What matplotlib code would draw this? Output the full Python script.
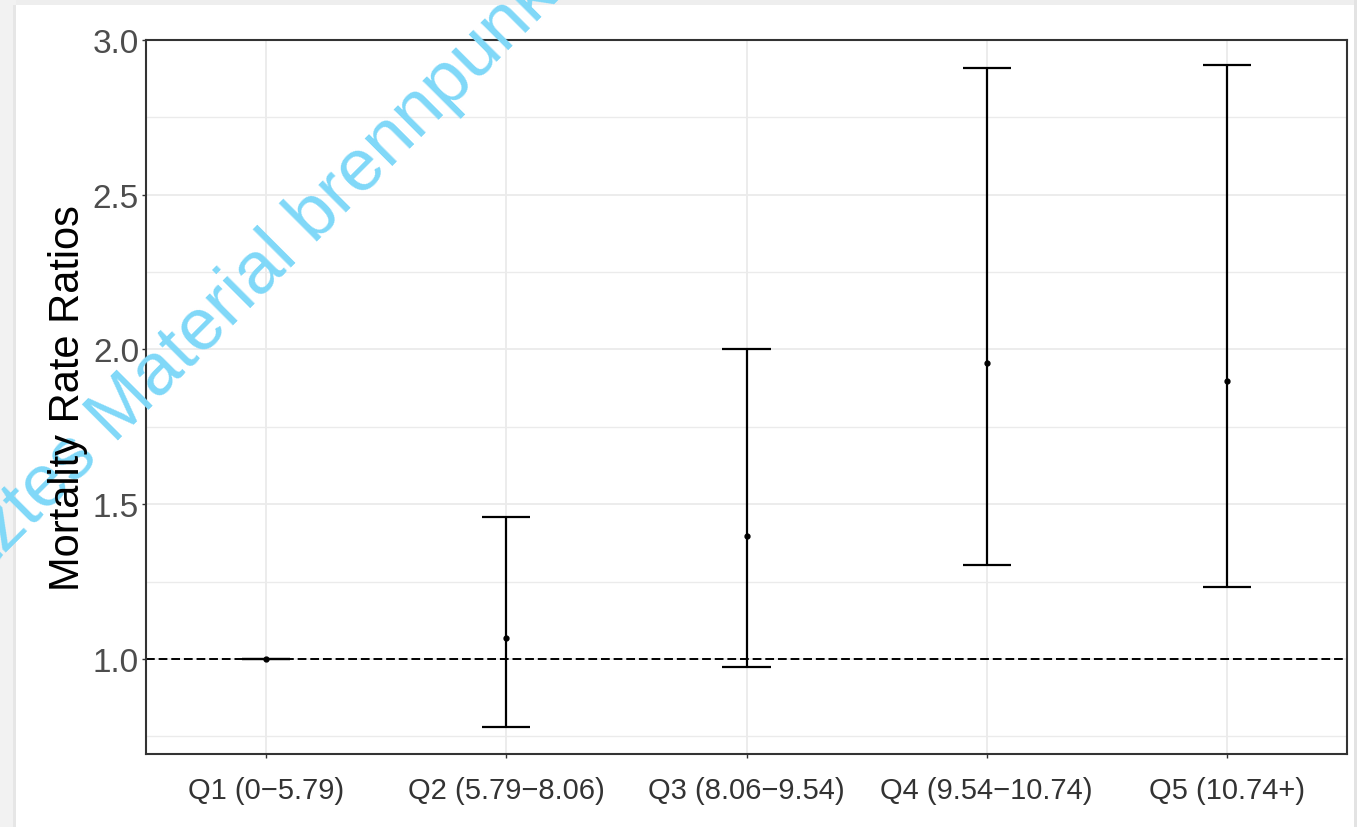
import matplotlib
matplotlib.use("Agg")
import matplotlib.pyplot as plt
from matplotlib.patches import Rectangle
from matplotlib.ticker import FormatStrFormatter

plt.rcParams['font.family'] = ['Liberation Sans', 'DejaVu Sans']

# quintile groups and their mortality rate ratios with 95% CI
groups = ["Q1 (0\u22125.79)", "Q2 (5.79\u22128.06)", "Q3 (8.06\u22129.54)",
          "Q4 (9.54\u221210.74)", "Q5 (10.74+)"]
rr = [1.0, 1.068, 1.397, 1.956, 1.898]
ci_low = [1.0, 0.78, 0.974, 1.304, 1.233]
ci_high = [1.0, 1.459, 2.0, 2.91, 2.92]

W, H = 1357, 828
fig = plt.figure(figsize=(W / 100, H / 100), dpi=100)
fig.patch.set_facecolor("white")

# light grey frame around the panel
fig.patches.append(Rectangle((0, 1 - 6 / H), 1, 6 / H, transform=fig.transFigure,
                             facecolor="#eeeeee", edgecolor="none", zorder=0))
fig.patches.append(Rectangle((0, 0), 16 / W, 1, transform=fig.transFigure,
                             facecolor="#f2f2f2", edgecolor="none", zorder=0))
fig.patches.append(Rectangle((13 / W, 0), 3 / W, 1 - 6 / H, transform=fig.transFigure,
                             facecolor="#e6e6e6", edgecolor="none", zorder=0))
fig.patches.append(Rectangle((1 - 3 / W, 0), 3 / W, 1, transform=fig.transFigure,
                             facecolor="#e3e3e3", edgecolor="none", zorder=0))

ax_left, ax_right, ax_top, ax_bottom = 146, 1347, 41, 755
ax = fig.add_axes([ax_left / W, 1 - ax_bottom / H,
                   (ax_right - ax_left) / W, (ax_bottom - ax_top) / H])

x = list(range(1, len(groups) + 1))

ax.axhline(1.0, color="black", lw=1.4, ls=(0, (4.5, 2)), zorder=2)
ax.vlines(x, ci_low, ci_high, color="black", lw=1.6, zorder=3)
ax.hlines(ci_low, [i - 0.1 for i in x], [i + 0.1 for i in x], color="black", lw=1.6, zorder=3)
ax.hlines(ci_high, [i - 0.1 for i in x], [i + 0.1 for i in x], color="black", lw=1.6, zorder=3)
ax.plot(x, rr, "o", ms=3.5, color="black", zorder=4)

ax.set_xlim(0.5, 5.5)
ax.set_ylim(0.693, 3.0)
ax.set_xticks(x)
ax.set_xticklabels(groups)
ax.set_yticks([1.0, 1.5, 2.0, 2.5, 3.0])
ax.set_yticks([0.75, 1.25, 1.75, 2.25, 2.75], minor=True)
ax.yaxis.set_major_formatter(FormatStrFormatter("%.1f"))

ax.grid(True, which="major", color="#ebebeb", lw=1.3, zorder=0)
ax.grid(True, which="minor", axis="y", color="#ebebeb", lw=1.0, zorder=0)
ax.set_axisbelow(True)

ax.tick_params(axis="y", which="major", labelsize=24, labelcolor="#4d4d4d",
               color="#333333", length=3, width=1, pad=2)
ax.tick_params(axis="x", which="major", labelsize=21, labelcolor="#333333",
               color="#333333", length=3, width=1, pad=13)
ax.tick_params(which="minor", length=0)

for s in ax.spines.values():
    s.set_color("#333333")
    s.set_linewidth(1.5)

# diagonal watermark, above the panel but under the axis title
fig.text(-190 / W, 1 - 748 / H, "Geschütztes Material brennpunkt",
         transform=fig.transFigure, rotation=45, rotation_mode="anchor",
         ha="left", va="baseline", fontsize=53, color="#80d8f8", zorder=10)

fig.text(68 / W, 1 - (ax_top + ax_bottom) / 2 / H, "Mortality Rate Ratios",
         rotation=90, ha="center", va="center", fontsize=30, color="black", zorder=11)

fig.savefig("out.png", dpi=100)
